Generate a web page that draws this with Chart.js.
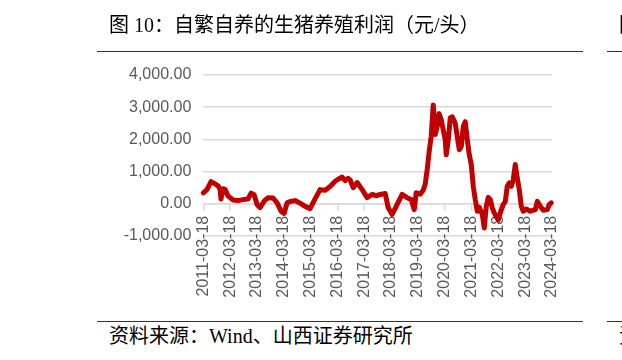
<!DOCTYPE html>
<html>
<head>
<meta charset="utf-8">
<script src="https://cdn.jsdelivr.net/npm/chart.js@4.4.1/dist/chart.umd.min.js"></script>
<style>
  html, body { margin: 0; padding: 0; background: #fff; }
  body { width: 622px; height: 360px; position: relative; overflow: hidden; }
  .txt {
    position: absolute;
    font-family: "Liberation Serif", "Noto Sans CJK SC", serif;
    font-size: 20px;
    line-height: 20px;
    color: #000;
    white-space: nowrap;
  }
  .regua { position: absolute; height: 1px; background: #333; }
  #caixa { position: absolute; left: 0; top: 0; width: 622px; height: 320px; }
</style>
</head>
<body>
<div id="caixa"><canvas id="grafico"></canvas></div>

<div class="txt" style="left:109px; top:15px">图 10：自繁自养的生猪养殖利润（元/头）</div>
<div class="txt" style="left:619px; top:15px">图</div>
<div class="regua" style="left:97px; top:51px; width:486px"></div>
<div class="regua" style="left:607px; top:51px; width:15px"></div>

<div class="regua" style="left:97px; top:321px; width:486px"></div>
<div class="regua" style="left:607px; top:321px; width:15px"></div>
<div class="txt" style="left:109px; top:326px">资料来源：Wind、山西证券研究所</div>
<div class="txt" style="left:619px; top:326px">资</div>

<script>
// datas (semanal, aqui só os pontos de inflexão)
const datas = [
  '2011-03-18', '2011-05-07', '2011-07-01', '2011-08-25', '2011-10-04', '2011-11-01',
  '2011-11-14', '2011-12-11', '2012-01-08', '2012-02-18', '2012-04-26', '2012-07-04',
  '2012-09-10', '2012-11-17', '2012-12-28', '2013-02-07', '2013-03-19', '2013-04-29',
  '2013-06-23', '2013-08-16', '2013-10-23', '2013-12-17', '2014-02-09', '2014-03-22',
  '2014-05-02', '2014-06-12', '2014-08-19', '2014-10-26', '2015-01-02', '2015-03-11',
  '2015-05-18', '2015-07-25', '2015-10-02', '2015-12-09', '2016-02-15', '2016-04-10',
  '2016-05-21', '2016-07-01', '2016-08-11', '2016-09-07', '2016-10-18', '2016-12-11',
  '2017-02-18', '2017-04-26', '2017-07-04', '2017-08-27', '2017-10-21', '2017-12-28',
  '2018-02-07', '2018-04-02', '2018-06-09', '2018-08-16', '2018-10-23', '2018-12-17',
  '2019-01-27', '2019-02-23', '2019-04-18', '2019-05-29', '2019-06-25', '2019-07-23',
  '2019-08-19', '2019-09-15', '2019-10-13', '2019-10-26', '2019-11-09', '2019-12-06',
  '2020-01-02', '2020-01-30', '2020-02-26', '2020-03-25', '2020-04-07', '2020-05-05',
  '2020-06-01', '2020-06-28', '2020-08-08', '2020-09-04', '2020-10-02', '2020-10-29',
  '2020-11-25', '2020-12-22', '2021-01-19', '2021-02-15', '2021-03-14', '2021-04-10',
  '2021-05-07', '2021-06-04', '2021-07-01', '2021-08-11', '2021-09-07', '2021-10-04',
  '2021-11-01', '2021-11-28', '2021-12-25', '2022-01-21', '2022-02-18', '2022-03-17',
  '2022-04-13', '2022-05-24', '2022-06-20', '2022-07-17', '2022-08-14', '2022-09-10',
  '2022-10-07', '2022-11-03', '2022-11-30', '2022-12-28', '2023-01-24', '2023-02-20',
  '2023-04-02', '2023-05-26', '2023-08-03', '2023-08-30', '2023-10-10', '2023-11-20',
  '2024-01-13', '2024-02-09', '2024-03-08'
];

// lucro por cabeça (元/头)
const lucro = [
  340, 440, 690, 620, 560, 450,
  150, 470, 450, 240, 120, 100,
  130, 150, 330, 280, -20, -120,
  80, 190, 180, 30, -230, -300,
  30, 70, 100, 20, -80, -150,
  150, 440, 420, 540, 700, 780,
  830, 720, 790, 740, 500, 660,
  440, 190, 290, 250, 290, 320,
  -120, -330, -20, 290, 190, 130,
  -180, 340, 300, 420, 600, 1060,
  1630, 2090, 3070, 2700, 2150, 2400,
  2800, 2600, 2300, 1990, 1520, 1990,
  2670, 2700, 2500, 2090, 1680, 1780,
  2400, 2550, 1990, 1520, 1220, 545,
  130, -230, -110, -330, -750, -75,
  200, 130, -125, -280, -400, -500,
  -280, -20, 70, 545, 650, 545,
  750, 1220, 800, 440, -75, -230,
  -160, -230, -180, 80, -80, -200,
  -180, -20, 30
];

const ticksY = [-1000, 0, 1000, 2000, 3000, 4000];
const anoInicial = 2011;
const totalAnos = 13;

const BASE = Date.parse('2011-03-18');
const ANO_MS = 365.25 * 24 * 3600 * 1000;

const pontos = datas.map((d, i) => ({ x: (Date.parse(d) - BASE) / ANO_MS, y: lucro[i] }));

const CINZA_TXT = '#595959';
const CINZA_GRADE = '#d9d9d9';

new Chart(document.getElementById('grafico'), {
  type: 'line',
  data: {
    datasets: [{
      data: pontos,
      borderColor: '#C00000',
      backgroundColor: '#C00000',
      borderWidth: 5,
      pointRadius: 0,
      tension: 0,
      fill: false,
      borderJoinStyle: 'round',
      borderCapStyle: 'round',
      clip: false
    }]
  },
  options: {
    responsive: true,
    maintainAspectRatio: false,
    animation: false,
    layout: { padding: { left: 100, right: 70, top: 75, bottom: 84 } },
    scales: {
      x: {
        type: 'linear',
        position: { y: 0 },
        min: 0,
        max: totalAnos,
        afterFit: (s) => { s.height = 0; },
        ticks: {
          stepSize: 1,
          autoSkip: false,
          minRotation: 90,
          maxRotation: 90,
          padding: 6,
          color: CINZA_TXT,
          font: { family: 'Liberation Sans', size: 16 },
          callback: (v) => (anoInicial + v) + '-03-18'
        },
        grid: {
          drawOnChartArea: false,
          drawTicks: true,
          tickLength: 6,
          color: CINZA_GRADE,
          lineWidth: 1.5
        },
        border: { display: true, color: CINZA_GRADE, width: 1.5 }
      },
      y: {
        min: ticksY[0],
        max: ticksY[ticksY.length - 1],
        afterFit: (s) => { s.width = 103.3; },
        afterBuildTicks: (s) => { s.ticks = ticksY.map(v => ({ value: v })); },
        ticks: {
          padding: 12,
          color: CINZA_TXT,
          font: { family: 'Liberation Sans', size: 16 },
          callback: (v) => v.toLocaleString('en-US', { minimumFractionDigits: 2, maximumFractionDigits: 2 })
        },
        grid: { color: CINZA_GRADE, lineWidth: 1.5, drawTicks: false },
        border: { display: false }
      }
    },
    plugins: {
      legend: { display: false },
      tooltip: { enabled: false }
    }
  }
});
</script>
</body>
</html>
